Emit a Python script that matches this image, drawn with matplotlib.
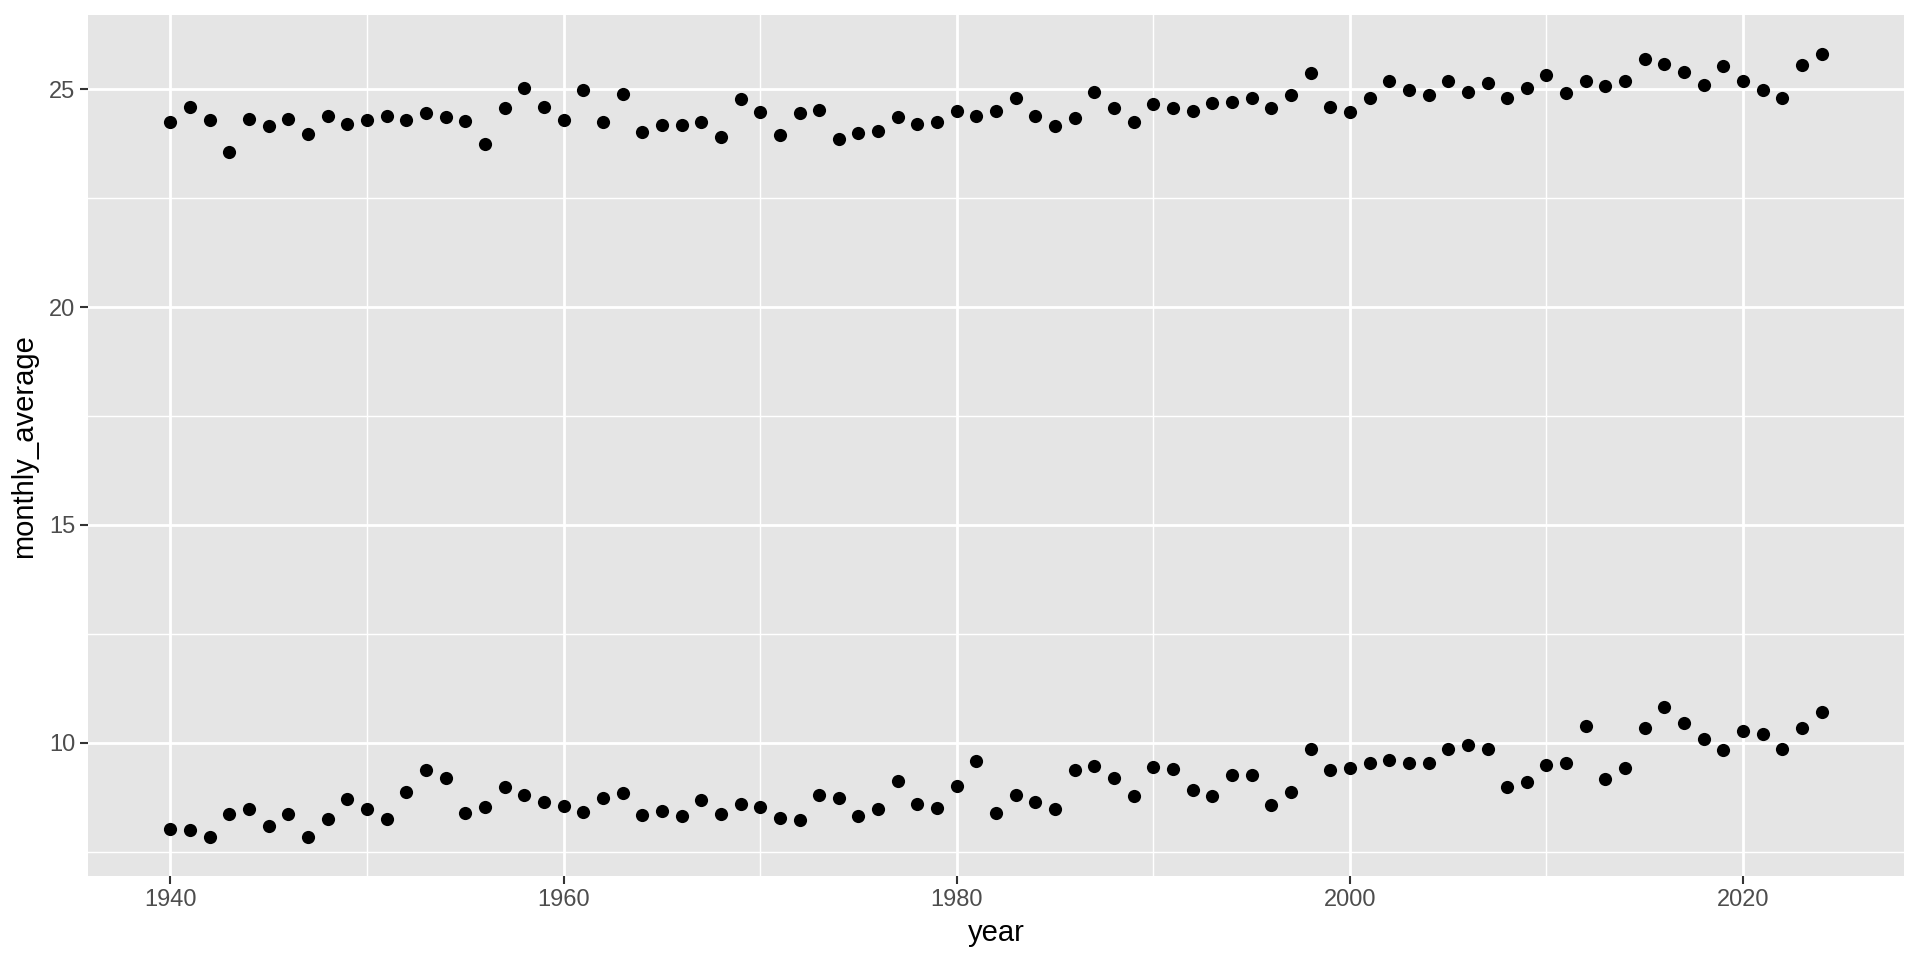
import matplotlib.pyplot as plt
import numpy as np

plt.rcParams['font.family'] = ['Liberation Sans', 'DejaVu Sans']

# yearly data
years = np.arange(1940, 2025)

upper = [24.24, 24.59, 24.29, 23.55, 24.31, 24.15, 24.31, 23.97, 24.38, 24.21,
         24.30, 24.39, 24.30, 24.45, 24.36, 24.27, 23.74, 24.57, 25.02, 24.59,
         24.30, 24.98, 24.25, 24.90, 24.01, 24.19, 24.19, 24.25, 23.90, 24.78,
         24.47, 23.96, 24.46, 24.53, 23.85, 24.00, 24.04, 24.36, 24.20, 24.24,
         24.50, 24.38, 24.50, 24.79, 24.39, 24.16, 24.34, 24.95, 24.57, 24.24,
         24.66, 24.56, 24.51, 24.69, 24.71, 24.79, 24.56, 24.88, 25.37, 24.59,
         24.48, 24.79, 25.20, 24.98, 24.86, 25.18, 24.95, 25.15, 24.79, 25.02,
         25.34, 24.91, 25.18, 25.07, 25.18, 25.69, 25.57, 25.39, 25.10, 25.54,
         25.20, 24.98, 24.80, 25.55, 25.80]

lower = [8.03, 8.00, 7.84, 8.37, 8.48, 8.08, 8.37, 7.84, 8.26, 8.70,
         8.47, 8.26, 8.88, 9.38, 9.20, 8.38, 8.53, 8.98, 8.81, 8.65,
         8.54, 8.42, 8.73, 8.85, 8.34, 8.43, 8.33, 8.68, 8.36, 8.59,
         8.53, 8.28, 8.23, 8.80, 8.73, 8.31, 8.49, 9.13, 8.59, 8.51,
         9.01, 9.58, 8.39, 8.81, 8.65, 8.47, 9.37, 9.47, 9.20, 8.78,
         9.45, 9.39, 8.91, 8.78, 9.25, 9.27, 8.58, 8.88, 9.85, 9.37,
         9.43, 9.53, 9.61, 9.53, 9.53, 9.85, 9.95, 9.85, 8.98, 9.10,
         9.50, 9.54, 10.39, 9.18, 9.43, 10.33, 10.81, 10.45, 10.08, 9.84,
         10.26, 10.21, 9.85, 10.34, 10.71]

x_ticks = [1940, 1960, 1980, 2000, 2020]
y_ticks = [10, 15, 20, 25]

fig = plt.figure(figsize=(19.2, 9.6), dpi=100)
ax = fig.add_axes([0.0458, 0.0875, 0.946, 0.8965])

# ggplot-like grey panel
ax.set_facecolor('#E5E5E5')
for s in ax.spines.values():
    s.set_visible(False)
ax.set_axisbelow(True)

ax.scatter(years, upper, s=90, color='black', linewidths=0, zorder=3)
ax.scatter(years, lower, s=90, color='black', linewidths=0, zorder=3)

allv = np.array(upper + lower)
pad_y = 0.05 * (allv.max() - allv.min())
ax.set_ylim(allv.min() - pad_y, allv.max() + pad_y)
pad_x = 0.05 * (years.max() - years.min())
ax.set_xlim(years.min() - pad_x, years.max() + pad_x)

ax.set_xticks(x_ticks)
ax.set_yticks(y_ticks)
ax.set_xticks([1950, 1970, 1990, 2010], minor=True)
ax.set_yticks([7.5, 12.5, 17.5, 22.5], minor=True)
ax.grid(which='major', color='white', linewidth=2.0)
ax.grid(which='minor', color='white', linewidth=1.0)

ax.tick_params(which='major', length=5.5, width=1.5, color='#333333',
               labelsize=17, labelcolor='#4D4D4D', pad=3.5)
ax.tick_params(which='minor', length=0)

ax.set_xlabel('year', fontsize=21, color='black', labelpad=6)
ax.set_ylabel('monthly_average', fontsize=21, color='black', labelpad=8)

fig.savefig('out.png', dpi=100, facecolor='white')
